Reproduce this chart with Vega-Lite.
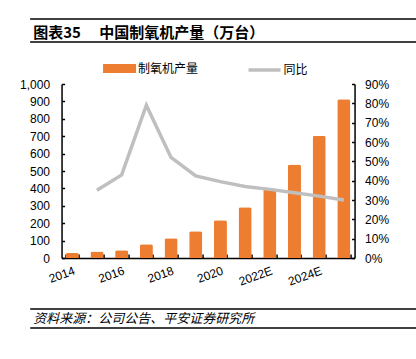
{
  "$schema": "https://vega.github.io/schema/vega-lite/v6.json",
  "padding": {"left": 19, "top": 18, "right": 5, "bottom": 5},
  "background": "white",
  "spacing": 4,
  "center": true,
  "resolve": {"scale": {"color": "independent", "fill": "independent", "stroke": "independent"}, "legend": {"color": "independent", "fill": "independent", "stroke": "independent"}},
  "vconcat": [
    {
      "width": 389,
      "height": 23,
      "data": {"values": [{"title": "图表35　 中国制氧机产量（万台）"}]},
      "layer": [
        {"mark": {"type": "rule", "color": "#000", "strokeWidth": 1.5},
         "encoding": {"y": {"datum": 0, "type": "quantitative", "scale": {"domain": [0, 1]}, "axis": null}}},
        {"mark": {"type": "rule", "color": "#000", "strokeWidth": 1.5},
         "encoding": {"y": {"datum": 1, "type": "quantitative", "axis": null}}},
        {"mark": {"type": "text", "align": "left", "baseline": "middle", "fontWeight": "bold", "fontSize": 15, "font": "Noto Sans CJK SC", "dx": 3, "dy": 2, "color": "#000"},
         "encoding": {
           "x": {"datum": 0, "type": "quantitative", "scale": {"domain": [0, 1]}, "axis": null},
           "y": {"datum": 0.5, "type": "quantitative", "axis": null},
           "text": {"field": "title"}
         }}
      ]
    },
    {
      "spacing": 20,
      "center": true,
      "resolve": {"scale": {"color": "independent", "fill": "independent", "stroke": "independent"}, "legend": {"color": "independent", "fill": "independent", "stroke": "independent"}},
      "vconcat": [
        {
          "width": 293,
          "height": 174,
          "data": {"values": [
            {"year": "2014", "output": 29, "yoy": null},
            {"year": "2015", "output": 37, "yoy": 0.35},
            {"year": "2016", "output": 44, "yoy": 0.43},
            {"year": "2017", "output": 79, "yoy": 0.79},
            {"year": "2018", "output": 113, "yoy": 0.52},
            {"year": "2019", "output": 154, "yoy": 0.425},
            {"year": "2020", "output": 217, "yoy": 0.395},
            {"year": "2021", "output": 292, "yoy": 0.37},
            {"year": "2022E", "output": 395, "yoy": 0.355},
            {"year": "2023E", "output": 538, "yoy": 0.337},
            {"year": "2024E", "output": 702, "yoy": 0.32},
            {"year": "2025E", "output": 912, "yoy": 0.30}
          ]},
          "layer": [
            {
              "mark": {"type": "bar", "cornerRadiusEnd": 2},
              "encoding": {
                "x": {"field": "year", "type": "ordinal", "sort": null,
                  "scale": {"paddingInner": 0.47, "paddingOuter": 0.17},
                  "axis": {"title": null, "labelAngle": -20, "labelAlign": "right", "labelBaseline": "top",
                    "tickSize": -4, "labelPadding": 11, "tickBand": "extent", "labelOverlap": false,
                    "labelExpr": "indexof(['2014','2016','2018','2020','2022E','2024E'], datum.value) >= 0 ? datum.value : ''"}},
                "y": {"field": "output", "type": "quantitative",
                  "scale": {"domain": [0, 1000], "nice": false},
                  "axis": {"title": null, "values": [0,100,200,300,400,500,600,700,800,900,1000], "format": ",.0f",
                    "tickSize": -3, "labelPadding": 15}},
                "fill": {"datum": "制氧机产量",
                  "scale": {"domain": ["制氧机产量"], "range": ["#ED7D31"]},
                  "legend": {"orient": "none", "legendX": 37, "legendY": -36.5, "direction": "horizontal", "title": null,
                    "symbolType": "stroke", "symbolSize": 1089, "symbolStrokeWidth": 9, "labelOffset": -2.5,
                    "labelFontSize": 12, "labelFont": "Noto Sans CJK SC", "labelColor": "#000",
                    "encode": {"symbols": {"update": {
                      "strokeWidth": {"value": 9},
                      "stroke": {"value": "#ED7D31"},
                      "strokeCap": {"value": "butt"}
                    }}}}
                }
              }
            },
            {
              "mark": {"type": "line", "strokeWidth": 3.5},
              "encoding": {
                "x": {"field": "year", "type": "ordinal", "sort": null},
                "y": {"field": "yoy", "type": "quantitative",
                  "scale": {"domain": [0, 0.9], "nice": false},
                  "axis": {"orient": "right", "title": null, "values": [0,0.1,0.2,0.3,0.4,0.5,0.6,0.7,0.8,0.9], "format": ".0%",
                    "tickSize": -3, "labelPadding": 13}},
                "stroke": {"datum": "同比",
                  "scale": {"domain": ["同比"], "range": ["#BFBFBF"]},
                  "legend": {"orient": "none", "legendX": 185, "legendY": -32, "direction": "horizontal", "title": null,
                    "symbolType": "stroke", "symbolSize": 1024, "symbolStrokeWidth": 3.5, "labelOffset": 1,
                    "labelFontSize": 12, "labelFont": "Noto Sans CJK SC", "labelColor": "#000",
                    "encode": {"symbols": {"update": {
                      "strokeWidth": {"value": 3.5},
                      "stroke": {"value": "#BFBFBF"},
                      "strokeCap": {"value": "butt"}
                    }}}}
                }
              }
            }
          ],
          "resolve": {"scale": {"y": "independent"}}
        },
        {
          "width": 389,
          "height": 19,
          "data": {"values": [{"source": "资料来源：公司公告、平安证券研究所"}]},
          "layer": [
            {"mark": {"type": "rule", "color": "#000", "strokeWidth": 1.5},
             "encoding": {"y": {"datum": 0, "type": "quantitative", "scale": {"domain": [0, 1]}, "axis": null}}},
            {"mark": {"type": "rule", "color": "#000", "strokeWidth": 1.5},
             "encoding": {"y": {"datum": 1, "type": "quantitative", "axis": null}}},
            {"mark": {"type": "text", "align": "left", "baseline": "middle", "fontStyle": "italic", "fontSize": 13, "font": "Noto Sans CJK SC", "dx": 3, "color": "#000"},
             "encoding": {
               "x": {"datum": 0, "type": "quantitative", "scale": {"domain": [0, 1]}, "axis": null},
               "y": {"datum": 0.5, "type": "quantitative", "axis": null},
               "text": {"field": "source"}
             }}
          ]
        }
      ]
    }
  ],
  "config": {
    "view": {"stroke": null},
    "font": "Liberation Sans",
    "axis": {"domainColor": "#000", "domainWidth": 1.5, "tickColor": "#000", "tickWidth": 1.5,
      "labelColor": "#000", "labelFontSize": 12, "labelFont": "Liberation Sans", "grid": false}
  }
}
